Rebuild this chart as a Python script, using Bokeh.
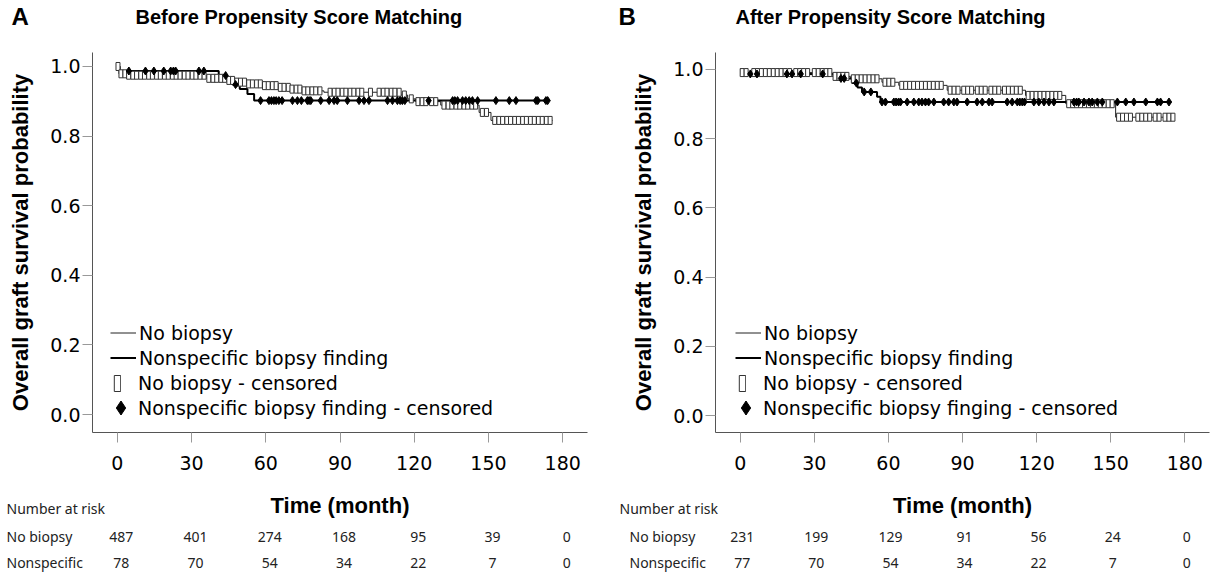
import numpy as np
from bokeh.plotting import figure
from bokeh.models import (Range1d, FixedTicker, PrintfTickFormatter, Legend, LegendItem,
                          ColumnDataSource)
from bokeh.core.properties import value
from bokeh.layouts import row
from bokeh.embed import file_html
from bokeh.resources import INLINE

# ---------------- data ----------------
x_ticks = [0, 30, 60, 90, 120, 150, 180]
y_ticks = [0.0, 0.2, 0.4, 0.6, 0.8, 1.0]
risk_times = [0, 30, 60, 90, 120, 150, 180]

# Panel A (before matching)
a_nb_t = [0, 0.7, 4, 36, 44, 47, 53, 58, 65, 70, 75.5, 83.5, 114.6, 117.3, 120.6, 130.7, 146.2, 151, 175.9]
a_nb_s = [1.0, 0.979, 0.975, 0.966, 0.960, 0.955, 0.950, 0.945, 0.940, 0.935, 0.930, 0.926, 0.918, 0.907, 0.899, 0.889, 0.868, 0.845, 0.845]
a_ns_t = [0, 1.0, 41, 44, 46.5, 49.5, 52.6, 55.3, 173.9]
a_ns_s = [1.0, 0.987, 0.974, 0.961, 0.948, 0.935, 0.921, 0.902, 0.902]
a_nb_cens = [0.3, 1.5, 3.1, 4.6, 6.3, 7.8, 9.5, 11.0, 12.7, 14.2, 15.9, 17.4, 19.1, 20.6, 22.3, 23.8,
             25.4, 27.1, 28.6, 30.3, 31.8, 33.5, 35.1, 37.0, 38.7, 40.2, 41.9, 43.4, 45.1, 46.6, 48.3,
             49.8, 51.4, 53.1, 54.6, 56.3, 57.8, 59.5, 61.0, 62.7, 64.2, 65.9, 67.4, 69.1, 70.6, 72.3,
             73.8, 75.5, 77.0, 78.7, 80.2, 81.9, 86.0, 87.7, 89.2, 90.9, 92.4, 94.1, 95.6, 97.3, 98.8,
             102.3, 105.8, 107.5, 109.0, 110.7, 112.2, 113.9, 116.0, 118.8, 121.5, 123.2, 124.7, 127.0,
             128.7, 132.0, 133.7, 135.2, 136.9, 138.4, 140.1, 141.6, 143.3, 144.8, 147.5, 149.2, 152.5,
             154.2, 155.7, 157.4, 158.9, 160.6, 162.1, 163.8, 165.3, 167.0, 168.5, 170.2, 171.7, 173.4, 174.9]
a_ns_cens = [4.7, 11.4, 14.8, 18.8, 21.6, 22.7, 23.6, 33.0, 35.0, 43.8, 47.8, 57.9, 61.3, 62.3, 63.3,
             64.2, 65.3, 66.6, 70.8, 72.8, 74.4, 76.8, 77.5, 78.2, 82.2, 85.6, 87.6, 88.9, 93.0, 97.7,
             99.7, 101.7, 109.2, 111.2, 113.2, 114.3, 115.2, 116.2, 125.8, 135.5, 136.4, 137.5, 139.5,
             140.8, 142.2, 143.5, 145.6, 153.0, 158.4, 161.1, 169.2, 169.9, 173.2, 173.9]
a_risk_nb = [487, 401, 274, 168, 95, 39, 0]
a_risk_ns = [78, 70, 54, 34, 22, 7, 0]

# Panel B (after matching)
b_nb_t = [0, 0.5, 37.2, 44.6, 57.4, 64.2, 83.8, 115.5, 131.8, 152, 175.6]
b_nb_s = [1.0, 0.991, 0.980, 0.973, 0.963, 0.954, 0.940, 0.925, 0.901, 0.862, 0.862]
b_ns_t = [0, 0.5, 39.2, 45.3, 47.5, 49.3, 55.4, 56.8, 174.3]
b_ns_s = [1.0, 0.987, 0.974, 0.961, 0.948, 0.935, 0.921, 0.906, 0.906]
b_nb_cens = [0.8, 2.4, 5.5, 7.0, 8.6, 10.2, 11.8, 13.4, 15.0, 16.6, 18.2, 20.0, 22.5, 24.1, 25.7, 27.3,
             30.0, 31.6, 33.2, 34.8, 36.3, 38.4, 40.0, 41.6, 43.2, 45.8, 47.4, 49.0, 50.6, 52.2, 53.8,
             55.4, 58.6, 60.2, 61.8, 65.4, 67.0, 68.6, 70.2, 71.8, 73.4, 75.0, 76.6, 78.2, 79.8, 81.4,
             85.0, 86.6, 88.2, 90.5, 92.1, 93.7, 96.0, 97.6, 99.2, 101.5, 103.1, 104.7, 107.0, 108.6,
             110.2, 111.8, 113.4, 116.6, 118.2, 119.8, 121.4, 123.0, 124.6, 126.2, 127.8, 129.4, 133.0,
             134.6, 136.2, 137.8, 139.4, 141.0, 142.6, 144.2, 145.8, 147.4, 149.0, 150.6, 153.2, 154.8,
             156.4, 158.0, 161.0, 162.6, 164.2, 165.8, 168.0, 169.6, 172.0, 173.6, 175.2]
b_ns_cens = [4.1, 6.8, 18.9, 21.0, 24.5, 33.4, 40.8, 42.1, 47.0, 50.2, 52.9, 57.4, 58.8, 62.2, 63.1,
             64.1, 64.9, 67.6, 70.3, 72.3, 73.6, 75.0, 76.3, 78.4, 82.4, 84.4, 86.5, 87.8, 91.9, 95.9,
             98.0, 100.7, 102.0, 108.1, 110.1, 112.2, 113.2, 114.2, 115.1, 118.9, 120.9, 123.0, 125.0,
             127.0, 135.1, 136.2, 137.1, 139.2, 141.2, 142.5, 144.6, 146.6, 152.7, 156.1, 159.4, 164.2,
             168.9, 170.2, 173.6]
b_risk_nb = [231, 199, 129, 91, 56, 24, 0]
b_risk_ns = [77, 70, 54, 34, 22, 7, 0]

legend_a = ["No biopsy", "Nonspecific biopsy finding", "No biopsy - censored",
            "Nonspecific biopsy finding - censored"]
legend_b = ["No biopsy", "Nonspecific biopsy finding", "No biopsy - censored",
            "Nonspecific biopsy finging - censored"]
risk_row_labels = ["Number at risk", "No biopsy", "Nonspecific"]

TICK_FONT = "DejaVu Sans"
BOLD_FONT = "Liberation Sans"
TABLE_FONT = "Noto Sans"

PANEL_W = 611
HEADER_H = 36
MAIN_H = 444
TABLE_H = 94
X_LO, X_HI = -10, 190
TOP_B, BOT_B = 16, 48


def step_at(ts, ss, t):
    i = int(np.searchsorted(np.asarray(ts), t, side="right")) - 1
    return ss[max(i, 0)]


def bare(width, height, xr, yr):
    f = figure(width=width, height=height, x_range=xr, y_range=yr, output_backend="svg",
               toolbar_location=None, x_axis_location=None, y_axis_location=None,
               min_border=0)
    f.outline_line_color = None
    f.grid.visible = False
    return f


def header(letter, letter_x, title, title_x):
    h = bare(PANEL_W, HEADER_H, Range1d(0, PANEL_W), Range1d(HEADER_H, 0))
    h.text(x=[letter_x], y=[16], text=[letter], text_font=value(BOLD_FONT),
           text_font_size="24px", text_font_style="bold", text_baseline="middle",
           text_color="black")
    h.text(x=[title_x], y=[16], text=[title], text_font=value(BOLD_FONT),
           text_font_size="20px", text_font_style="bold", text_baseline="middle",
           text_color="black")
    return h


def km_plot(nb_t, nb_s, ns_t, ns_s, nb_c, ns_c, leg, bl, br, y_lo, y_hi, leg_dx):
    p = figure(width=PANEL_W, height=MAIN_H, x_range=Range1d(X_LO, X_HI),
               y_range=Range1d(y_lo, y_hi), output_backend="svg", toolbar_location=None,
               min_border_left=bl, min_border_right=br, min_border_top=TOP_B,
               min_border_bottom=BOT_B)
    p.outline_line_color = None
    p.grid.visible = False
    for ax in (p.xaxis[0], p.yaxis[0]):
        ax.axis_line_color = "#555555"
        ax.axis_line_width = 1
        ax.major_tick_line_color = "#999999"
        ax.major_tick_in = 0
        ax.major_tick_out = 10
        ax.minor_tick_line_color = None
        ax.major_label_text_font = TICK_FONT
        ax.major_label_text_font_size = "19px"
        ax.major_label_text_color = "black"
        ax.axis_label_text_font = BOLD_FONT
        ax.axis_label_text_font_size = "22px"
        ax.axis_label_text_font_style = "bold"
        ax.axis_label_text_color = "black"
    p.xaxis.ticker = FixedTicker(ticks=x_ticks)
    p.yaxis.ticker = FixedTicker(ticks=y_ticks)
    p.yaxis.formatter = PrintfTickFormatter(format="%.1f")
    p.yaxis.axis_label = "Overall graft survival probability"
    p.xaxis.major_label_standoff = 13
    p.yaxis.major_label_standoff = 2
    p.yaxis.axis_label_standoff = 14

    l_nb = p.step(nb_t, nb_s, mode="after", line_color="#222222", line_width=1)
    l_ns = p.step(ns_t, ns_s, mode="after", line_color="black", line_width=2)
    c_nb = p.rect(nb_c, [step_at(nb_t, nb_s, t) for t in nb_c], width=4, height=8,
                  width_units="screen", height_units="screen",
                  fill_color="white", line_color="#333333", line_width=1)
    c_ns = p.scatter(ns_c, [step_at(ns_t, ns_s, t) for t in ns_c], marker="diamond", size=8,
                     fill_color="black", line_color="black")

    common = dict(border_line_color=None, background_fill_alpha=0, padding=0, margin=0, spacing=0,
                  label_text_font=TICK_FONT, label_text_font_size="19px", label_height=25,
                  label_text_color="black")
    lg1 = Legend(items=[LegendItem(label=leg[0], renderers=[l_nb]),
                        LegendItem(label=leg[1], renderers=[l_ns])],
                 location=(18 + leg_dx, 62), glyph_width=26, glyph_height=25, label_standoff=3,
                 **common)
    lg2 = Legend(items=[LegendItem(label=leg[2], renderers=[c_nb])],
                 location=(21 + leg_dx, 37), glyph_width=8, glyph_height=20, label_standoff=17,
                 **common)
    lg3 = Legend(items=[LegendItem(label=leg[3], renderers=[c_ns])],
                 location=(11 + leg_dx, 7), glyph_width=35, glyph_height=35, label_standoff=0,
                 **common)
    for lg in (lg1, lg2, lg3):
        p.add_layout(lg, "center")
    return p


def risk_table(risk_nb, risk_ns, bl, br, risk_dx, row_x, nar_x):
    frame_w = PANEL_W - bl - br
    ppu = frame_w / (X_HI - X_LO)            # pixels per month, same as the KM plot
    t_lo = X_LO - bl / ppu
    t_hi = t_lo + PANEL_W / ppu
    tb = bare(PANEL_W, TABLE_H, Range1d(t_lo, t_hi), Range1d(TABLE_H, 0))
    tb.text(x=[(X_LO + X_HI) / 2], y=[25], text=["Time (month)"], text_font=value(BOLD_FONT),
            text_font_size="22px", text_font_style="bold", text_align="center",
            text_baseline="middle", text_color="black")
    src = ColumnDataSource(dict(t=risk_times, nb=[str(v) for v in risk_nb],
                                ns=[str(v) for v in risk_ns]))
    for field, yy in (("nb", 56), ("ns", 82)):
        tb.text(x="t", y=yy, text=field, source=src, x_offset=risk_dx, text_align="center",
                text_baseline="middle", text_font=value(TABLE_FONT), text_font_size="14px",
                text_color="#222222")
    tb.text(x=[t_lo, t_lo, t_lo], y=[28, 56, 82], text=risk_row_labels,
            x_offset=[nar_x, row_x, row_x], text_baseline="middle",
            text_font=value(TABLE_FONT), text_font_size="14px", text_color="#222222")
    return tb


hA = header("A", 11, "Before Propensity Score Matching", 135)
hB = header("B", 7, "After Propensity Score Matching", 124)
pA = km_plot(a_nb_t, a_nb_s, a_ns_t, a_ns_s, a_nb_cens, a_ns_cens, legend_a, 92, 24,
             -0.0517, 1.0402, 0)
pB = km_plot(b_nb_t, b_nb_s, b_ns_t, b_ns_s, b_nb_cens, b_ns_cens, legend_b, 104, 13,
             -0.0491, 1.049, 2)
tA = risk_table(a_risk_nb, a_risk_ns, 92, 24, 4, 6, 6)
tB = risk_table(b_risk_nb, b_risk_ns, 104, 13, 2, 18, 8)

roots = [row(hA, hB, spacing=0), row(pA, pB, spacing=0), row(tA, tB, spacing=0)]
open("out.html", "w").write(file_html(roots, INLINE))
